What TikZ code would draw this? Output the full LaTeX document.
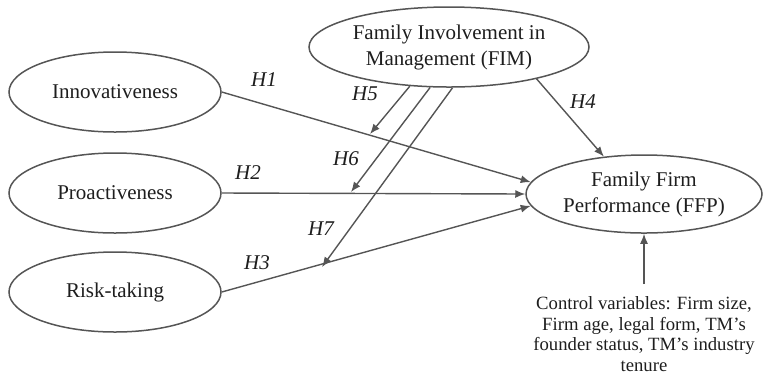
\documentclass[tikz,border=0pt]{standalone}
\usepackage{fontspec}
\setmainfont{Liberation Serif}
\usepackage{tikz}
\usetikzlibrary{arrows.meta,shapes.geometric}

\definecolor{linegray}{RGB}{85,85,85}
\definecolor{txtgray}{RGB}{30,30,30}

\begin{document}
\begin{tikzpicture}[x=0.5pt,y=-0.5pt,>={Latex[length=5pt,width=4pt]},line width=0.7pt,
	construct/.style={ellipse,draw=linegray,line width=0.75pt,inner sep=0pt,text=txtgray,align=center,font=\fontsize{10.5}{13}\selectfont},
	hyp/.style={text=txtgray,font=\fontsize{10.5}{13}\selectfont\itshape},
	ctrl/.style={text=txtgray,align=center,inner sep=0pt,font=\fontsize{9.35}{10.25}\selectfont},
	link/.style={->,draw=linegray}]

\useasboundingbox (0,0) rectangle (765,377);

% constructs
\node[construct,minimum width=106pt,minimum height=40pt] (inn) at (115,92) {Innovativeness};
\node[construct,minimum width=106pt,minimum height=40pt] (pro) at (115,193) {Proactiveness};
\node[construct,minimum width=106pt,minimum height=40pt] (risk) at (115,292) {Risk-taking};
\node[construct,minimum width=140pt,minimum height=40pt] (fim) at (449,47) {Family Involvement in\\Management (FIM)};
\node[construct,minimum width=118pt,minimum height=39pt] (ffp) at (644,194) {Family Firm\\Performance (FFP)};
\node[ctrl,anchor=north] (ctrl) at (644,296) {Control variables: Firm size,\\Firm age, legal form, TM's\\founder status, TM's industry\\tenure};

% points where the moderating paths meet
\coordinate (m1) at (370,134);
\coordinate (m2) at (351,192);
\coordinate (m3) at (322,267);

\path
	(inn.east) edge[link] 	(ffp.174)
	(pro.east) edge[link] 	(ffp.west)
	(risk.east) edge[link] 	(ffp.186)
	(fim.340) edge[link] 	(ffp.137)
	(fim.225) edge[link] 	(m1)
	(fim.245) edge[link] 	(m2)
	(fim.275) edge[link] 	(m3);
\draw[link] ([yshift=6pt]ctrl.north) -- (ffp.south);

% hypothesis labels
\node[hyp] (h1) at (264,80) {H1};
\node[hyp] (h2) at (248,173) {H2};
\node[hyp] (h3) at (257,263) {H3};
\node[hyp] (h4) at (583,102) {H4};
\node[hyp] (h5) at (365,94) {H5};
\node[hyp] (h6) at (346,159) {H6};
\node[hyp] (h7) at (321,229) {H7};

\end{tikzpicture}
\end{document}
